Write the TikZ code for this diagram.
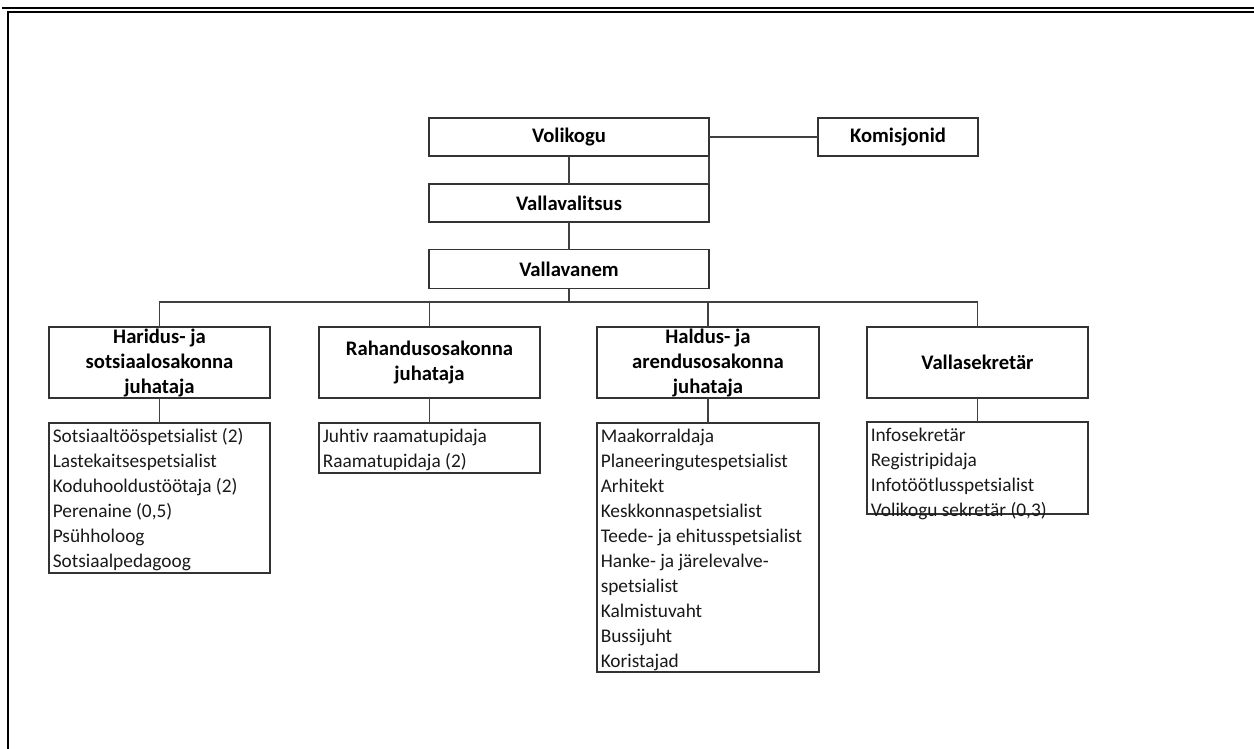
\documentclass[tikz,border=0pt]{standalone}
\usepackage{fontspec}
\setmainfont{Carlito}[Ligatures=NoCommon]
\usetikzlibrary{calc}

\newcommand{\pxu}{0.75pt}

\tikzset{
  headbox/.style={draw=black!80, line width=1.2pt, inner sep=0pt, outer sep=0pt, align=center,
                  minimum height=38*\pxu, font=\bfseries\fontsize{15.5}{18.75}\selectfont},
  listbox/.style={draw=black!80, line width=1.2pt, inner sep=0pt, outer sep=0pt, anchor=north},
  listtext/.style={anchor=north west, inner sep=0pt, align=left, text=black!90,
                   font=\fontsize{14.5}{18.75}\selectfont},
  link/.style={draw=black!75, line width=1.2pt},
}

\begin{document}
\begin{tikzpicture}[x=\pxu, y=-\pxu]
      % Page frame
      \useasboundingbox (0,0) rectangle (1254,749);
      \draw[line width=0.9pt] (2,8)  -- (1254,8);    % thin top rule
      \draw[line width=1.5pt] (7,12) -- (1254,12);   % thick top rule
      \draw[line width=1.5pt] (8,11) -- (8,749);     % left rule

      % Top of the chart
      \node[headbox, minimum width=280*\pxu] (vol) at (569,137) {Volikogu};
      \node[headbox, minimum width=160*\pxu] (kom) at (898,137) {Komisjonid};
      \node[headbox, minimum width=280*\pxu] (val) at (569,203) {Vallavalitsus};
      \node[headbox, minimum width=280*\pxu, minimum height=39*\pxu] (van) at (569,269) {Vallavanem};

      % Heads of departments
      \node[headbox, minimum width=221*\pxu, minimum height=71*\pxu] (h1) at (159.5,362.5) {Haridus- ja\\sotsiaalosakonna\\juhataja};
      \node[headbox, minimum width=221*\pxu, minimum height=71*\pxu] (h2) at (429.5,362.5) {Rahandusosakonna\\juhataja};
      \node[headbox, minimum width=222*\pxu, minimum height=71*\pxu] (h3) at (708,362.5)   {Haldus- ja\\arendusosakonna\\juhataja};
      \node[headbox, minimum width=221*\pxu, minimum height=71*\pxu] (h4) at (977.5,362.5) {Vallasekretär};

      % Staff lists
      \node[listbox, minimum width=221*\pxu, minimum height=150*\pxu] (l1) at (159.5,423) {};
      \node[listbox, minimum width=221*\pxu, minimum height=50*\pxu]  (l2) at (429.5,423) {};
      \node[listbox, minimum width=222*\pxu, minimum height=249*\pxu] (l3) at (708,423)   {};
      \node[listbox, minimum width=221*\pxu, minimum height=92*\pxu]  (l4) at (977.5,422) {};

      \node[listtext] (t1) at ($(l1.north west)+(3.5,2)$) {\strut Sotsiaaltööspetsialist (2)\\\strut Lastekaitsespetsialist\\\strut Koduhooldustöötaja (2)\\\strut Perenaine (0,5)\\\strut Psühholoog\\\strut Sotsiaalpedagoog};
      \node[listtext] (t2) at ($(l2.north west)+(3.5,2)$) {\strut Juhtiv raamatupidaja\\\strut Raamatupidaja (2)};
      \node[listtext] (t3) at ($(l3.north west)+(3.5,2)$) {\strut Maakorraldaja\\\strut Planeeringutespetsialist\\\strut Arhitekt\\\strut Keskkonnaspetsialist\\\strut Teede- ja ehitusspetsialist\\\strut Hanke- ja järelevalve-\\\strut spetsialist\\\strut Kalmistuvaht\\\strut Bussijuht\\\strut Koristajad};
      \node[listtext] (t4) at ($(l4.north west)+(3.5,2)$) {\strut Infosekretär\\\strut Registripidaja\\\strut Infotöötlusspetsialist\\\strut Volikogu sekretär (0,3)};

      % Connectors
      \coordinate (bus) at (569,302);
      \draw[link] (vol.east) -- (kom.west);
      \draw[link] (vol.south) -- (val.north);
      \draw[link] (vol.south east) -- (val.north east);
      \draw[link] (val.south) -- (van.north);
      \draw[link] (van.south) -- (bus);
      \draw[link] (h1.north) |- (bus) -| (h4.north);
      \draw[link] (h2.north) -- (h2.north |- bus);
      \draw[link] (h3.north) -- (h3.north |- bus);
      \foreach \i in {1,...,4}
        \draw[link] (h\i.south) -- (l\i.north);
\end{tikzpicture}
\end{document}
